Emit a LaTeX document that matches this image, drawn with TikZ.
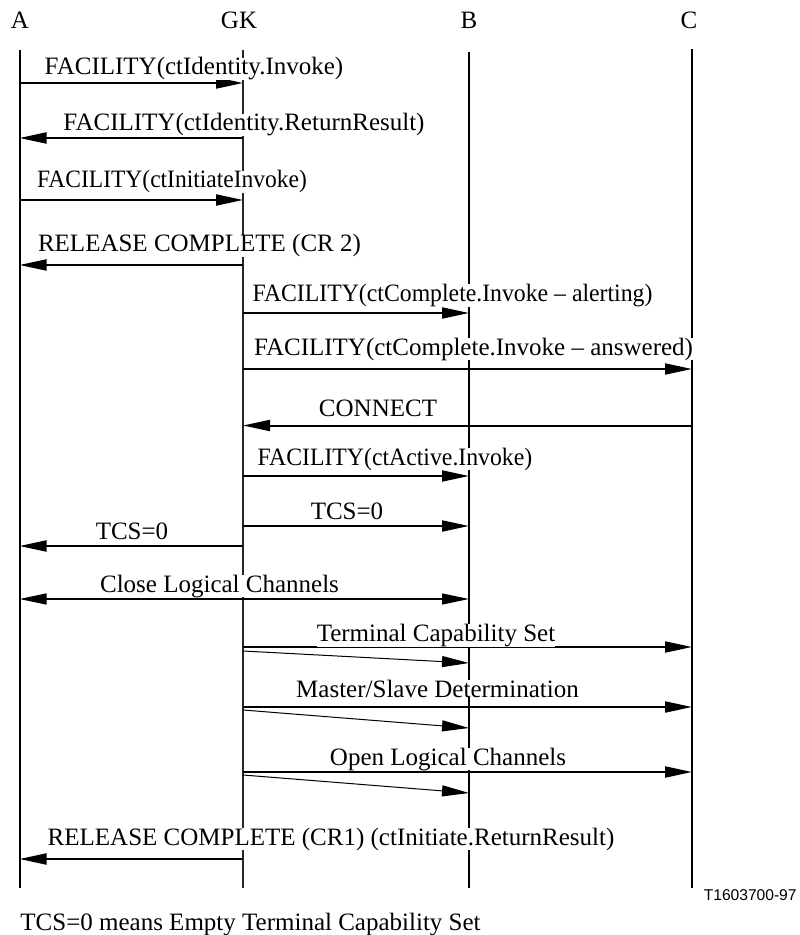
\documentclass[tikz,border=0pt]{standalone}
\usepackage{fontspec}
\setmainfont{Liberation Serif}
\newfontfamily\figsans{Liberation Sans}
\usetikzlibrary{arrows.meta}
\newcommand{\hsq}[2]{\scalebox{#1}[1]{#2}}
\begin{document}
\begin{tikzpicture}[x=0.5pt,y=-0.5pt,
  font=\fontsize{12.5pt}{15pt}\selectfont,
  >={Triangle[length=13.5pt,width=5.5pt]},
  life/.style={line width=1pt},
  gklife/.style={line width=0.55pt,black!85},
  msg/.style={line width=1pt,->},
  thinmsg/.style={line width=0.65pt,<->},
  slant/.style={line width=0.5pt,->},
  lbl/.style={fill=white,inner sep=0pt,anchor=base},
  head/.style={inner sep=0pt,anchor=base}]
\useasboundingbox (0,0) rectangle (799,935);

% entity names
\node[head] (A)  at (20,29)  {A};
\node[head] (GK) at (239,29) {GK};
\node[head] (B)  at (469,29) {B};
\node[head] (C)  at (689,29) {C};

% lifelines
\coordinate (At) at (19.5,50);  \coordinate (Ab) at (19.5,888);
\coordinate (Gt) at (243,50);   \coordinate (Gb) at (243,888);
\coordinate (Bt) at (469,52);   \coordinate (Bb) at (469,888);
\coordinate (Ct) at (692,49);   \coordinate (Cb) at (692,888);
\draw[life] (At) -- (Ab);
\draw[gklife] (Gt) -- (Gb);
\draw[life] (Bt) -- (Bb);
\draw[life] (Ct) -- (Cb);

% message end points
\coordinate (a1) at (19.5,83);  \coordinate (g1) at (243,83);
\coordinate (g2) at (243,138);  \coordinate (a2) at (19.5,138);
\coordinate (a3) at (19.5,200); \coordinate (g3) at (243,200);
\coordinate (g4) at (243,265);  \coordinate (a4) at (19.5,265);
\coordinate (g5) at (243,313);  \coordinate (b5) at (469,313);
\coordinate (g6) at (243,369);  \coordinate (c6) at (692,369);
\coordinate (c7) at (692,425.5); \coordinate (g7) at (243,425.5);
\coordinate (g8) at (243,476);  \coordinate (b8) at (469,476);
\coordinate (g9) at (243,526);  \coordinate (b9) at (469,526);
\coordinate (g10) at (243,546); \coordinate (a10) at (19.5,546);
\coordinate (a11) at (19.5,599); \coordinate (b11) at (469,599);
\coordinate (g12) at (243,647); \coordinate (c12) at (692,647);
\coordinate (g12s) at (243,651); \coordinate (b12s) at (469,663);
\coordinate (g13) at (243,707); \coordinate (c13) at (692,707);
\coordinate (g13s) at (243,710); \coordinate (b13s) at (469,728);
\coordinate (g14) at (243,772); \coordinate (c14) at (692,772);
\coordinate (g14s) at (243,775); \coordinate (b14s) at (469,793);
\coordinate (g15) at (243,859); \coordinate (a15) at (19.5,859);

% messages
\draw[msg] (a1) -- (g1);
\draw[msg] (g2) -- (a2);
\draw[msg] (a3) -- (g3);
\draw[msg] (g4) -- (a4);
\draw[msg] (g5) -- (b5);
\draw[msg] (g6) -- (c6);
\draw[msg] (c7) -- (g7);
\draw[msg] (g8) -- (b8);
\draw[msg] (g9) -- (b9);
\draw[msg] (g10) -- (a10);
\draw[thinmsg] (a11) -- (b11);
\draw[msg] (g12) -- (c12);
\draw[slant] (g12s) -- (b12s);
\draw[msg] (g13) -- (c13);
\draw[slant] (g13s) -- (b13s);
\draw[msg] (g14) -- (c14);
\draw[slant] (g14s) -- (b14s);
\draw[msg] (g15) -- (a15);

% labels
\node[lbl] (l1)  at (194,75)    {FACILITY(ctIdentity.Invoke)};
\node[lbl] (l2)  at (244,131)   {FACILITY(ctIdentity.ReturnResult)};
\node[lbl] (l3)  at (172,188)   {\hsq{0.94}{FACILITY(ctInitiateInvoke)}};
\node[lbl] (l4)  at (199.5,252) {RELEASE COMPLETE (CR 2)};
\node[lbl] (l5)  at (452.5,301.5) {\hsq{0.95}{FACILITY(ctComplete.Invoke – alerting)}};
\node[lbl] (l6)  at (473.5,355) {FACILITY(ctComplete.Invoke – answered)};
\node[lbl] (l7)  at (378,416)   {CONNECT};
\node[lbl] (l8)  at (395,465)   {\hsq{0.95}{FACILITY(ctActive.Invoke)}};
\node[lbl] (l9)  at (347,519)   {TCS=0};
\node[lbl] (l10) at (132,539)   {TCS=0};
\node[lbl] (l11) at (219.5,592) {Close Logical Channels};
\node[lbl] (l12) at (436,641.7) {Terminal Capability Set};
\node[lbl] (l13) at (437.5,697) {Master/Slave Determination};
\node[lbl] (l14) at (448,765)   {Open Logical Channels};
\node[lbl] (l15) at (331,845)   {RELEASE COMPLETE (CR1) (ctInitiate.ReturnResult)};

% footer
\node[inner sep=0pt,anchor=base east,font=\figsans\fontsize{7.8pt}{9pt}\selectfont] (ref) at (797,900) {T1603700-97};
\node[inner sep=0pt,anchor=base west] (note) at (20,930) {TCS=0 means Empty Terminal Capability Set};
\end{tikzpicture}
\end{document}
